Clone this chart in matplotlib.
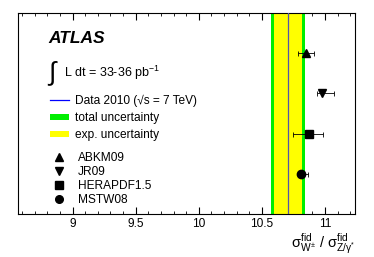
import matplotlib

matplotlib.use("Agg")

import matplotlib.pyplot as plt
from matplotlib.lines import Line2D
from matplotlib.patches import Patch
from matplotlib.ticker import MultipleLocator

plt.rcParams["font.family"] = ["Liberation Sans", "DejaVu Sans"]
plt.rcParams["mathtext.fontset"] = "custom"
plt.rcParams["mathtext.rm"] = "Liberation Sans"
plt.rcParams["mathtext.it"] = "Liberation Sans"
plt.rcParams["mathtext.bf"] = "Liberation Sans:bold"

# measured ratio and bands
data_value = 10.709
total_band = (10.569, 10.841)
exp_band = (10.595, 10.819)

# theory predictions, top to bottom
pdf_names = ["ABKM09", "JR09", "HERAPDF1.5", "MSTW08"]
pdf_values = [10.847, 10.980, 10.876, 10.810]
pdf_err_lo = [0.064, 0.041, 0.127, 0.027]
pdf_err_hi = [0.068, 0.094, 0.111, 0.053]
pdf_markers = ["^", "v", "s", "o"]
pdf_rows = [4, 3, 2, 1]

fig = plt.figure(figsize=(3.74, 2.57), dpi=100)
ax = fig.add_axes([0.048, 0.167, 0.901, 0.782])

ax.axvspan(*total_band, color="#00ee00", lw=0, zorder=1)
ax.axvspan(*exp_band, color="#ffff00", lw=0, zorder=2)
ax.axvline(data_value, color="#5555aa", lw=0.9, zorder=3)

for val, lo, hi, mk, row in zip(pdf_values, pdf_err_lo, pdf_err_hi, pdf_markers, pdf_rows):
    ax.errorbar(
        val, row, xerr=[[lo], [hi]], fmt=mk, color="black", ms=6,
        elinewidth=0.6, capsize=1.8, capthick=0.6, zorder=5,
    )

ax.set_xlim(8.567, 11.238)
ax.set_ylim(0.0, 5.0)
ax.set_yticks([])
ax.xaxis.set_major_locator(MultipleLocator(0.5))
ax.xaxis.set_minor_locator(MultipleLocator(0.1))
ax.xaxis.set_major_formatter(plt.FuncFormatter(lambda v, p: f"{v:g}"))
ax.tick_params(axis="x", which="both", direction="in", top=True, labelsize=8.6, pad=2.5)
ax.tick_params(axis="x", which="major", length=5, width=0.8)
ax.tick_params(axis="x", which="minor", length=2.5, width=0.6)
for sp in ax.spines.values():
    sp.set_linewidth(0.8)

ax.set_xlabel(r"$\sigma^{\rm fid}_{W^{\pm}}$ / $\sigma^{\rm fid}_{Z/\gamma^{*}}$",
              loc="right", fontsize=10.5, labelpad=1)

ax.text(0.090, 0.876, "ATLAS", transform=ax.transAxes, fontsize=12.5,
        fontweight="bold", fontstyle="italic", va="center", ha="left")
ax.text(0.090, 0.706, "\u222b", transform=ax.transAxes, fontsize=19,
        va="center", ha="left")
ax.text(0.136, 0.703, "L dt = 33-36 pb$^{-1}$", transform=ax.transAxes,
        fontsize=9, va="center", ha="left")

band_handles = [
    Line2D([], [], color="blue", lw=0.9),
    Patch(facecolor="#00ee00", edgecolor="none"),
    Patch(facecolor="#ffff00", edgecolor="none"),
]
band_labels = ["Data 2010 (\u221as = 7 TeV)", "total uncertainty", "exp. uncertainty"]
leg1 = ax.legend(band_handles, band_labels, loc="upper left",
                 bbox_to_anchor=(0.094, 0.593), frameon=False, fontsize=8.6,
                 handlelength=1.6, handleheight=0.45, handletextpad=0.5,
                 labelspacing=0.42, borderpad=0, borderaxespad=0)
ax.add_artist(leg1)

pdf_handles = [Line2D([], [], ls="none", marker=m, color="black", ms=5.5) for m in pdf_markers]
ax.legend(pdf_handles, pdf_names, loc="upper left",
          bbox_to_anchor=(0.102, 0.31), frameon=False, fontsize=8.6,
          handlelength=1.2, handletextpad=0.95, labelspacing=0.17,
          borderpad=0, borderaxespad=0)

fig.savefig("out.png", dpi=100)
